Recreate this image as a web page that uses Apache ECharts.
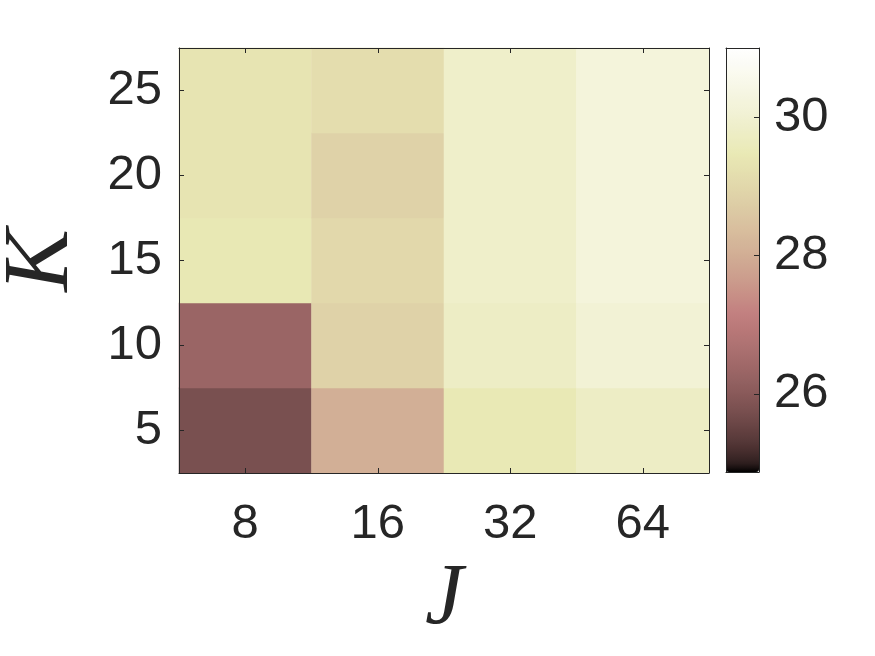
<!DOCTYPE html>
<html>
<head>
<meta charset="utf-8">
<script src="https://cdn.jsdelivr.net/npm/echarts@6/dist/echarts.min.js"></script>
<style>
html, body { margin: 0; background: #fff; }
#container { width: 875px; height: 656px; }
</style>
</head>
<body>
<div id="container"></div>
<script>
// axis categories
const jLabels = ['8', '16', '32', '64']
const kLabels = ['5', '10', '15', '20', '25']

// cell values, one array per J column, K = 5 .. 25
const j8 = [25.76, 26.31, 29.44, 29.35, 29.35]
const j16 = [28.05, 28.86, 29.01, 28.86, 29.15]
const j32 = [29.47, 29.77, 29.86, 29.86, 29.86]
const j64 = [29.77, 30.07, 30.20, 30.20, 30.20]

// colorbar
const cbTicks = [26, 28, 30]
const cMin = 24.87
const cMax = 31.0

const columns = [j8, j16, j32, j64]
let data = []
columns.forEach((col, xi) => {
    col.forEach((v, yi) => data.push([xi, yi, v]))
})

// matlab "pink" colormap
function pink(n) {
    let out = []
    for (let i = 0; i < n; i++) {
        const t = i / (n - 1)
        const hr = Math.min(1, t / 0.375)
        const hg = Math.min(1, Math.max(0, (t - 0.375) / 0.375))
        const hb = Math.min(1, Math.max(0, (t - 0.75) / 0.25))
        const c = [hr, hg, hb].map(h => Math.round(255 * Math.sqrt((2 * t + h) / 3)))
        out.push('rgb(' + c.join(',') + ')')
    }
    return out
}

const ink = '#262626'
const sans = 'Liberation Sans, Arial, sans-serif'
const serif = 'Liberation Serif, Times New Roman, serif'
const lineStyle = { color: ink, width: 1 }

let options = {
    animation: false,
    backgroundColor: '#fff',
    grid: [
        { left: 179, top: 48, width: 530, height: 425, containLabel: false, outerBoundsMode: 'none' },
        { left: 726, top: 48, width: 33, height: 424, containLabel: false, outerBoundsMode: 'none' }
    ],
    xAxis: [
        {
            type: 'category', gridIndex: 0, data: jLabels, position: 'bottom', z: 10,
            name: 'J', nameLocation: 'middle', nameGap: 84,
            nameTextStyle: { fontFamily: serif, fontStyle: 'italic', fontSize: 86, color: ink },
            axisLine: { show: true, lineStyle: lineStyle },
            axisTick: { show: true, inside: true, length: 5, alignWithLabel: true, lineStyle: lineStyle },
            axisLabel: { color: ink, fontSize: 49, fontFamily: sans, margin: 27 },
            splitLine: { show: false }
        },
        {
            type: 'category', gridIndex: 0, data: jLabels, position: 'top', z: 10,
            axisLine: { show: true, lineStyle: lineStyle },
            axisTick: { show: true, inside: true, length: 5, alignWithLabel: true, lineStyle: lineStyle },
            axisLabel: { show: false }, splitLine: { show: false }
        },
        {
            type: 'value', gridIndex: 1, min: 0, max: 1, position: 'bottom', z: 10,
            axisLine: { show: true, onZero: false, lineStyle: lineStyle },
            axisTick: { show: false }, axisLabel: { show: false }, splitLine: { show: false }
        },
        {
            type: 'value', gridIndex: 1, min: 0, max: 1, position: 'top', z: 10,
            axisLine: { show: true, onZero: false, lineStyle: lineStyle },
            axisTick: { show: false }, axisLabel: { show: false }, splitLine: { show: false }
        }
    ],
    yAxis: [
        {
            type: 'category', gridIndex: 0, data: kLabels, position: 'left', z: 10,
            name: 'K', nameLocation: 'middle', nameGap: 90, nameRotate: 90,
            nameTextStyle: { fontFamily: serif, fontStyle: 'italic', fontSize: 94, color: ink },
            axisLine: { show: true, lineStyle: lineStyle },
            axisTick: { show: true, inside: true, length: 5, alignWithLabel: true, lineStyle: lineStyle },
            axisLabel: { color: ink, fontSize: 49, fontFamily: sans, margin: 17 },
            splitLine: { show: false }
        },
        {
            type: 'category', gridIndex: 0, data: kLabels, position: 'right', z: 10,
            axisLine: { show: true, lineStyle: lineStyle },
            axisTick: { show: true, inside: true, length: 5, alignWithLabel: true, lineStyle: lineStyle },
            axisLabel: { show: false }, splitLine: { show: false }
        },
        {
            type: 'value', gridIndex: 1, min: cMin, max: cMax, position: 'left', z: 10,
            axisLine: { show: true, onZero: false, lineStyle: lineStyle },
            axisTick: { show: false }, axisLabel: { show: false }, splitLine: { show: false }
        },
        {
            type: 'value', gridIndex: 1, min: cMin, max: cMax, position: 'right', z: 10,
            axisLine: { show: true, onZero: false, lineStyle: lineStyle },
            axisTick: { show: true, inside: true, length: 5, customValues: cbTicks, lineStyle: lineStyle },
            axisLabel: { show: true, customValues: cbTicks, color: ink, fontSize: 49, fontFamily: sans, margin: 15 },
            splitLine: { show: false }
        }
    ],
    visualMap: {
        type: 'continuous',
        seriesIndex: 0,
        min: cMin,
        max: cMax,
        calculable: false,
        left: 726,
        top: 48,
        itemWidth: 33,
        itemHeight: 424,
        padding: 0,
        text: null,
        showLabel: false,
        inRange: { color: pink(64) }
    },
    series: [
        {
            type: 'heatmap',
            xAxisIndex: 0,
            yAxisIndex: 0,
            data: data,
            emphasis: { disabled: true },
            itemStyle: { borderWidth: 0 }
        }
    ]
}

let mychart = echarts.init(document.getElementById('container'))
mychart.setOption(options)
</script>
</body>
</html>
